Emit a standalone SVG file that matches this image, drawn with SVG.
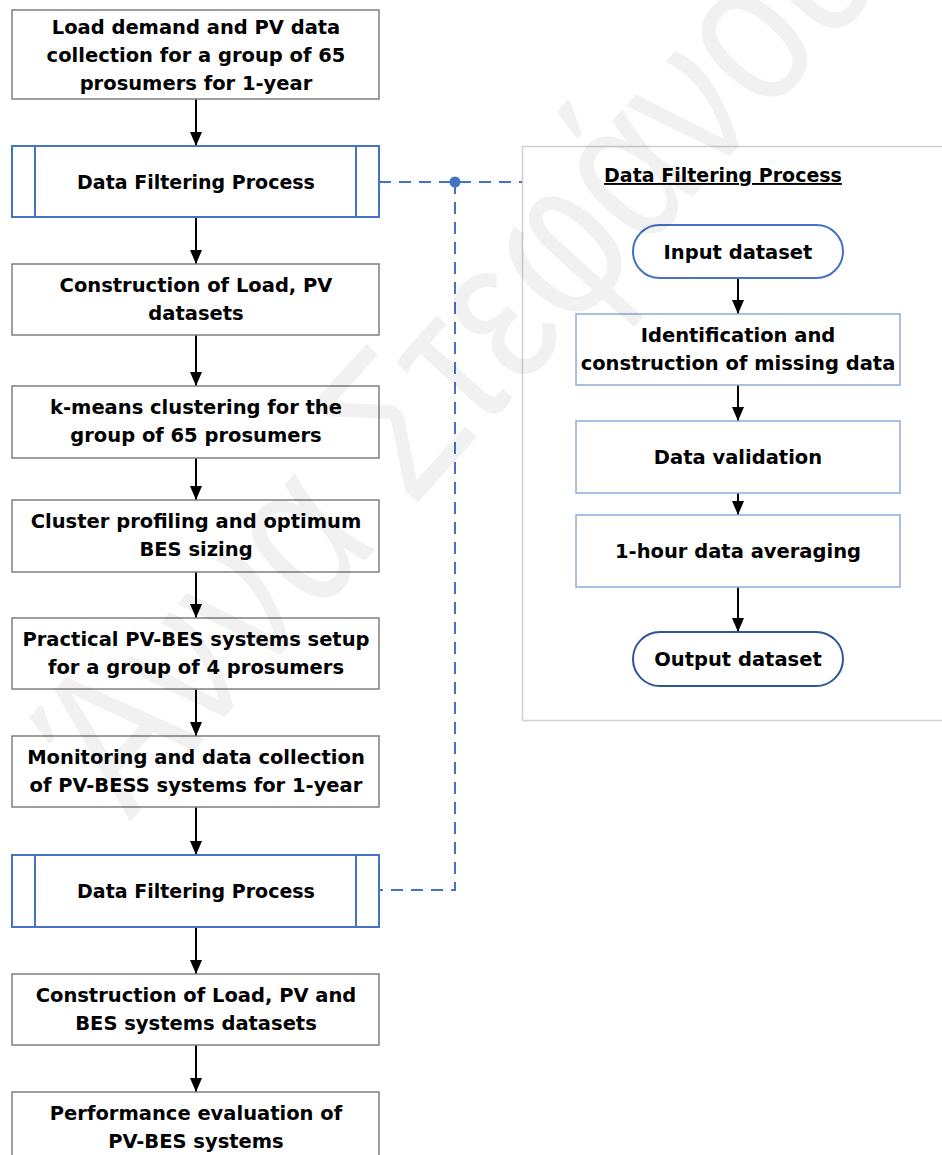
<svg xmlns="http://www.w3.org/2000/svg" width="942" height="1155" viewBox="0 0 942 1155">
<defs>
<marker id="ah" markerUnits="userSpaceOnUse" markerWidth="14" markerHeight="12" refX="14" refY="6" orient="auto"><path d="M0,0 L14,6 L0,12 z" fill="#000"/></marker>
<style>
.t{font-family:"DejaVu Sans","Liberation Sans",sans-serif;font-weight:bold;font-size:19.5px;fill:#000;text-anchor:middle}
.t19{font-size:19px}
.box{fill:#fff;stroke:#7f7f7f;stroke-width:1.5}
.rbox{fill:#fff;stroke:#8faadc;stroke-width:1.5}
.sub{fill:#fff;stroke:#4472c4;stroke-width:2}
.subl{stroke:#4472c4;stroke-width:2}
.term{fill:#fff;stroke:#4472c4;stroke-width:2}
.arr{stroke:#000;stroke-width:2;fill:none;marker-end:url(#ah)}
.dash{stroke:#4472c4;stroke-width:2;fill:none;stroke-dasharray:12 8}
</style>
</defs>
<rect width="942" height="1155" fill="#fff"/>
<g id="panel"><rect x="522.5" y="146.5" width="440" height="574" fill="none" stroke="#d0d0d0" stroke-width="1.5"/>
<text class="t t19" x="723" y="182" text-decoration="underline">Data Filtering Process</text></g>
<g id="connectors">
<line class="arr" x1="196" y1="99" x2="196" y2="146"/>
<line class="arr" x1="196" y1="217" x2="196" y2="264"/>
<line class="arr" x1="196" y1="335" x2="196" y2="386"/>
<line class="arr" x1="196" y1="458" x2="196" y2="500"/>
<line class="arr" x1="196" y1="572" x2="196" y2="618"/>
<line class="arr" x1="196" y1="689" x2="196" y2="736"/>
<line class="arr" x1="196" y1="807" x2="196" y2="855"/>
<line class="arr" x1="196" y1="927" x2="196" y2="974"/>
<line class="arr" x1="196" y1="1045" x2="196" y2="1092"/>
<line class="arr" x1="738" y1="278" x2="738" y2="314"/>
<line class="arr" x1="738" y1="385" x2="738" y2="421"/>
<line class="arr" x1="738" y1="493" x2="738" y2="515"/>
<line class="arr" x1="738" y1="587" x2="738" y2="632"/>
<path class="dash" d="M379,182 H522"/>
<path class="dash" d="M455,182 V890 H379"/>
<circle cx="455" cy="182" r="5.5" fill="#4472c4"/>
</g>
<g id="n1"><rect class="box" x="12" y="10" width="367" height="89"/>
<text class="t" x="196" y="34">Load demand and PV data</text><text class="t" x="196" y="62">collection for a group of 65</text><text class="t" x="196" y="90">prosumers for 1-year</text></g>
<g id="dfp1"><rect class="sub" x="12" y="146" width="367" height="71"/><line class="subl" x1="35" y1="146" x2="35" y2="217"/><line class="subl" x1="356" y1="146" x2="356" y2="217"/>
<text class="t t19" x="196" y="189">Data Filtering Process</text></g>
<g id="n3"><rect class="box" x="12" y="264" width="367" height="71"/>
<text class="t" x="196" y="292">Construction of Load, PV</text><text class="t" x="196" y="320">datasets</text></g>
<g id="n4"><rect class="box" x="12" y="386" width="367" height="72"/>
<text class="t" x="196" y="414">k-means clustering for the</text><text class="t" x="196" y="442">group of 65 prosumers</text></g>
<g id="n5"><rect class="box" x="12" y="500" width="367" height="72"/>
<text class="t" x="196" y="528">Cluster profiling and optimum</text><text class="t" x="196" y="556">BES sizing</text></g>
<g id="n6"><rect class="box" x="12" y="618" width="367" height="71"/>
<text class="t" x="196" y="646">Practical PV-BES systems setup</text><text class="t" x="196" y="674">for a group of 4 prosumers</text></g>
<g id="n7"><rect class="box" x="12" y="736" width="367" height="71"/>
<text class="t" x="196" y="764">Monitoring and data collection</text><text class="t" x="196" y="792">of PV-BESS systems for 1-year</text></g>
<g id="dfp2"><rect class="sub" x="12" y="855" width="367" height="72"/><line class="subl" x1="35" y1="855" x2="35" y2="927"/><line class="subl" x1="356" y1="855" x2="356" y2="927"/>
<text class="t t19" x="196" y="898">Data Filtering Process</text></g>
<g id="n9"><rect class="box" x="12" y="974" width="367" height="71"/>
<text class="t" x="196" y="1002">Construction of Load, PV and</text><text class="t" x="196" y="1030">BES systems datasets</text></g>
<g id="n10"><rect class="box" x="12" y="1092" width="367" height="80"/>
<text class="t" x="196" y="1120">Performance evaluation of</text><text class="t" x="196" y="1148">PV-BES systems</text></g>
<g id="r1"><rect class="term" x="633" y="225" width="210" height="53" rx="26.5"/><text class="t" x="738" y="259">Input dataset</text></g>
<g id="r2"><rect class="rbox" x="576" y="314" width="324" height="71"/><text class="t" x="738" y="342">Identification and</text><text class="t" x="738" y="370">construction of missing data</text></g>
<g id="r3"><rect class="rbox" x="576" y="421" width="324" height="72"/><text class="t" x="738" y="464">Data validation</text></g>
<g id="r4"><rect class="rbox" x="576" y="515" width="324" height="72"/><text class="t" x="738" y="558">1-hour data averaging</text></g>
<g id="r5"><rect class="term" x="633" y="632" width="210" height="54" rx="27" style="stroke:#2f5597"/><text class="t" x="738" y="666">Output dataset</text></g>
<g id="watermark"><text x="0" y="0" transform="translate(130,822) rotate(-48) scale(0.8,1)" font-family="'Liberation Sans',sans-serif" font-size="210" fill="#000" fill-opacity="0.055">Άννα Στεφάνου</text></g>
</svg>
